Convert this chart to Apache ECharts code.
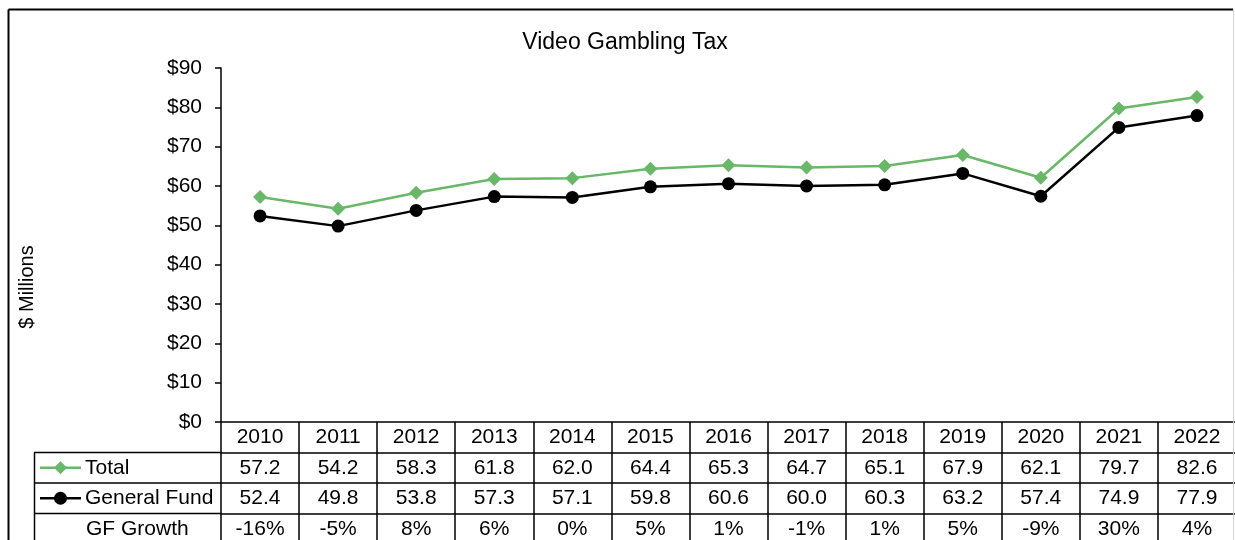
<!DOCTYPE html>
<html>
<head>
<meta charset="utf-8">
<script src="https://cdn.jsdelivr.net/npm/echarts@6.0.0/dist/echarts.min.js"></script>
<style>
  html, body { margin: 0; padding: 0; background: #fff; }
  #chart { width: 1235px; height: 540px; }
</style>
</head>
<body>
<div id="chart"></div>
<script>
// Fiscal years shown on the category axis and as the table header row
const years = ['2010', '2011', '2012', '2013', '2014', '2015', '2016', '2017', '2018', '2019', '2020', '2021', '2022'];
// Video gambling tax receipts, $ millions
const totalTax = [57.2, 54.2, 58.3, 61.8, 62.0, 64.4, 65.3, 64.7, 65.1, 67.9, 62.1, 79.7, 82.6];
const generalFund = [52.4, 49.8, 53.8, 57.3, 57.1, 59.8, 60.6, 60.0, 60.3, 63.2, 57.4, 74.9, 77.9];
// Year-over-year change in the General Fund share
const gfGrowth = ['-16%', '-5%', '8%', '6%', '0%', '5%', '1%', '-1%', '1%', '5%', '-9%', '30%', '4%'];
// Value axis range
const yMin = 0, yMax = 90, yStep = 10;

const FONT = '"Liberation Sans", Arial, sans-serif';
const GREEN = '#68b868';
const ROW_H = 30.5;
const TABLE_FONT = 21;
const GRID_LEFT = 221, GRID_TOP = 68, GRID_BOTTOM_Y = 422;

// Each data-table row is a category axis stacked below the plot;
// its ticks at the category boundaries draw the cell dividers.
function tableRow(labels, row) {
  return {
    type: 'category',
    gridIndex: 0,
    position: 'bottom',
    offset: row * ROW_H,
    data: labels,
    boundaryGap: true,
    axisLine: { show: true, onZero: false, lineStyle: { color: '#000', width: 1.5 } },
    axisTick: { show: true, interval: 0, length: ROW_H, lineStyle: { color: '#000', width: 1.5 } },
    axisLabel: {
      show: true, interval: 0, margin: 0, color: '#000',
      fontSize: TABLE_FONT, fontFamily: FONT, lineHeight: ROW_H, verticalAlign: 'top'
    },
    splitLine: { show: false }
  };
}

const chart = echarts.init(document.getElementById('chart'), null, { renderer: 'canvas' });

const legendY1 = GRID_BOTTOM_Y + ROW_H * 1.5;
const legendY2 = GRID_BOTTOM_Y + ROW_H * 2.5;
const legendY3 = GRID_BOTTOM_Y + ROW_H * 3.5;

chart.setOption({
  animation: false,
  backgroundColor: '#fff',
  title: {
    text: 'Video Gambling Tax',
    left: 620, top: 26, textAlign: 'center',
    textStyle: { fontFamily: FONT, fontSize: 23, fontWeight: 'normal', color: '#000' }
  },
  grid: {
    left: GRID_LEFT, top: GRID_TOP, width: 1015, height: GRID_BOTTOM_Y - GRID_TOP,
    containLabel: false, outerBoundsMode: 'none'
  },
  xAxis: [
    tableRow(years, 0),
    tableRow(totalTax.map(v => v.toFixed(1)), 1),
    tableRow(generalFund.map(v => v.toFixed(1)), 2),
    tableRow(gfGrowth, 3)
  ],
  yAxis: {
    type: 'value',
    min: yMin, max: yMax, interval: yStep,
    axisLine: { show: true, lineStyle: { color: '#000', width: 1.5 } },
    axisTick: { show: true, length: 6, lineStyle: { color: '#000', width: 1.5 } },
    axisLabel: { formatter: '${value}', fontFamily: FONT, fontSize: 21, color: '#000', margin: 19 },
    splitLine: { show: false }
  },
  series: [
    {
      name: 'Total', type: 'line', xAxisIndex: 0, data: totalTax,
      symbol: 'diamond', symbolSize: 14,
      lineStyle: { color: GREEN, width: 2.5 },
      itemStyle: { color: GREEN },
      z: 3
    },
    {
      name: 'General Fund', type: 'line', xAxisIndex: 0, data: generalFund,
      symbol: 'circle', symbolSize: 13,
      lineStyle: { color: '#000', width: 2.5 },
      itemStyle: { color: '#000' },
      z: 2
    }
  ],
  graphic: [
    // chart frame
    { type: 'line', shape: { x1: 8.5, y1: 9.5, x2: 1233, y2: 9.5 }, style: { stroke: '#000', lineWidth: 2 }, z: 10 },
    { type: 'line', shape: { x1: 8.5, y1: 9.5, x2: 8.5, y2: 540 }, style: { stroke: '#000', lineWidth: 2 }, z: 10 },
    { type: 'line', shape: { x1: 1233.5, y1: 9.5, x2: 1233.5, y2: 540 }, style: { stroke: '#d4d4d4', lineWidth: 1 }, z: 10 },
    // value axis title
    { type: 'text', x: 27, y: 287, rotation: Math.PI / 2,
      style: { text: '$ Millions', fontFamily: FONT, fontSize: 20, fill: '#000', align: 'center', verticalAlign: 'middle' } },
    // legend-key column of the data table
    { type: 'line', shape: { x1: 34, y1: GRID_BOTTOM_Y + ROW_H, x2: GRID_LEFT, y2: GRID_BOTTOM_Y + ROW_H }, style: { stroke: '#000', lineWidth: 1.5 } },
    { type: 'line', shape: { x1: 34, y1: GRID_BOTTOM_Y + ROW_H * 2, x2: GRID_LEFT, y2: GRID_BOTTOM_Y + ROW_H * 2 }, style: { stroke: '#000', lineWidth: 1.5 } },
    { type: 'line', shape: { x1: 34, y1: GRID_BOTTOM_Y + ROW_H * 3, x2: GRID_LEFT, y2: GRID_BOTTOM_Y + ROW_H * 3 }, style: { stroke: '#000', lineWidth: 1.5 } },
    { type: 'line', shape: { x1: 34.5, y1: GRID_BOTTOM_Y + ROW_H, x2: 34.5, y2: 540 }, style: { stroke: '#000', lineWidth: 1.5 } },
    // Total key
    { type: 'line', shape: { x1: 40, y1: legendY1, x2: 81, y2: legendY1 }, style: { stroke: GREEN, lineWidth: 2.5 } },
    { type: 'polygon', shape: { points: [[60.5, legendY1 - 6.5], [67, legendY1], [60.5, legendY1 + 6.5], [54, legendY1]] }, style: { fill: GREEN } },
    { type: 'text', x: 85, y: legendY1, style: { text: 'Total', fontFamily: FONT, fontSize: TABLE_FONT, fill: '#000', verticalAlign: 'middle' } },
    // General Fund key
    { type: 'line', shape: { x1: 40, y1: legendY2, x2: 81, y2: legendY2 }, style: { stroke: '#000', lineWidth: 2.5 } },
    { type: 'circle', shape: { cx: 60.5, cy: legendY2, r: 6.5 }, style: { fill: '#000' } },
    { type: 'text', x: 85, y: legendY2, style: { text: 'General Fund', fontFamily: FONT, fontSize: TABLE_FONT, fill: '#000', verticalAlign: 'middle' } },
    // growth row heading
    { type: 'text', x: 86, y: legendY3, style: { text: 'GF Growth', fontFamily: FONT, fontSize: TABLE_FONT, fill: '#000', verticalAlign: 'middle' } }
  ]
});
</script>
</body>
</html>
